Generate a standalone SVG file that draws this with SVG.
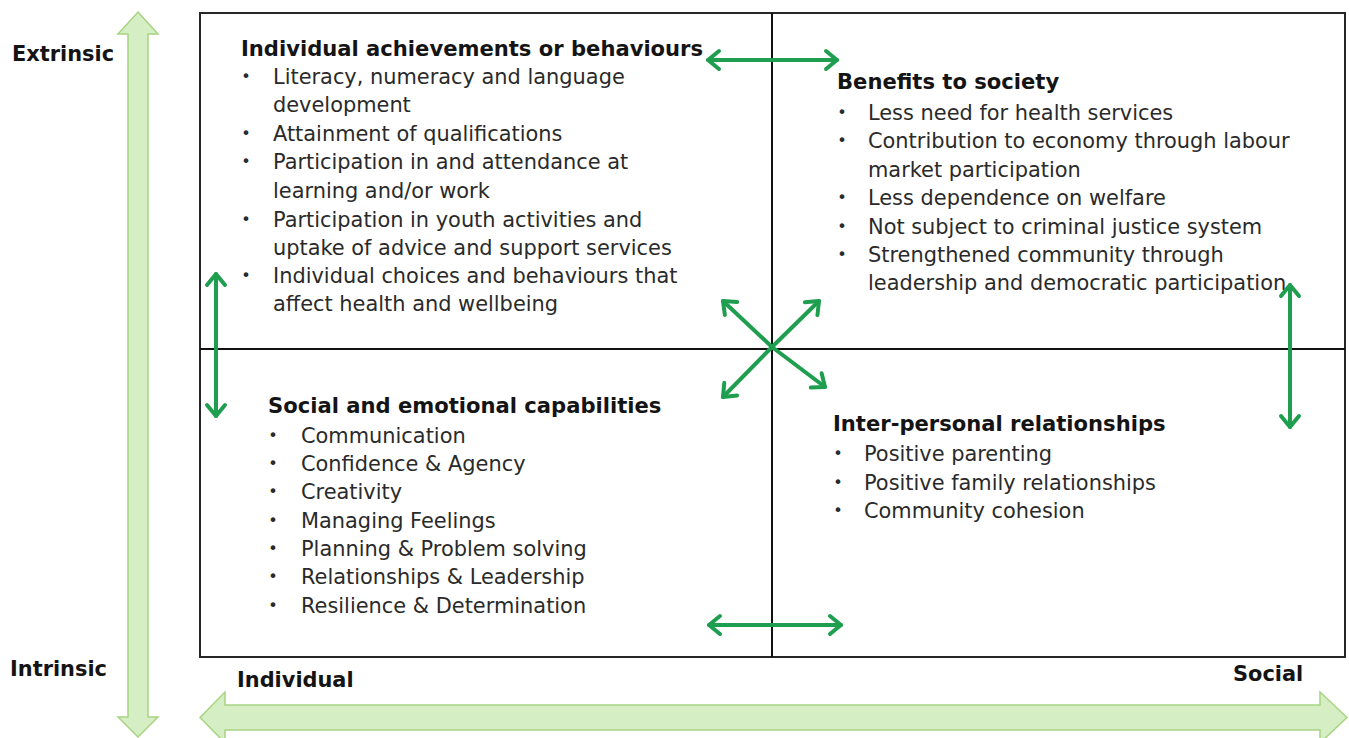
<svg xmlns="http://www.w3.org/2000/svg" width="1349" height="738" viewBox="0 0 1349 738">
<style>
  text { font-family: "DejaVu Sans", Verdana, sans-serif; font-size: 20.9px; fill: #2a2a2a; }
  .t { font-weight: bold; font-size: 21.1px; fill: #141414; }
  .ax { font-weight: bold; fill: #141414; }
  .b { text-anchor: middle; font-size: 16px; }
  .big { fill: #d6eec3; stroke: #a8d483; stroke-width: 1.5; stroke-linejoin: miter; }
  .frame { fill: #ffffff; stroke: #262626; stroke-width: 2; }
  .div { stroke: #111111; stroke-width: 2; }
  .g { fill: none; stroke: #1f9e50; stroke-width: 4; stroke-linecap: round; marker-start: url(#ah); marker-end: url(#ah); }
</style>
<defs>
  <marker id="ah" markerUnits="userSpaceOnUse" orient="auto-start-reverse" refX="0" refY="0" markerWidth="30" markerHeight="30" viewBox="-15 -15 30 30" overflow="visible">
    <path d="M -11 -9 L 0 0 L -11 9" fill="none" stroke="#1f9e50" stroke-width="4" stroke-linecap="round" stroke-linejoin="round"/>
  </marker>
</defs>
<rect width="1349" height="738" fill="#ffffff"/>

<g id="axis-vertical">
  <polygon class="big" points="138,12 158,34 148,34 148,717 158,717 138,737 118,717 128,717 128,34 118,34"/>
  <text class="ax" x="12" y="61">Extrinsic</text>
  <text class="ax" x="10" y="676">Intrinsic</text>
</g>

<g id="axis-horizontal">
  <polygon class="big" points="200,717.5 225,692 225,705 1320,705 1320,692 1347,717.5 1320,743 1320,730 225,730 225,743"/>
  <text class="ax" x="237" y="687">Individual</text>
  <text class="ax" x="1233" y="681">Social</text>
</g>

<g id="frame">
  <rect class="frame" x="200" y="13" width="1145" height="644"/>
  <line class="div" x1="772" y1="13" x2="772" y2="657"/>
  <line class="div" x1="200" y1="349" x2="1345" y2="349"/>
</g>

<g id="individual-achievements">
  <text class="t" x="241" y="56">Individual achievements or behaviours</text>
  <text class="b" x="246" y="82">•</text><text x="273" y="84">Literacy, numeracy and language</text>
  <text x="273" y="112">development</text>
  <text class="b" x="246" y="139">•</text><text x="273" y="141">Attainment of qualifications</text>
  <text class="b" x="246" y="167">•</text><text x="273" y="169">Participation in and attendance at</text>
  <text x="273" y="198">learning and/or work</text>
  <text class="b" x="246" y="225">•</text><text x="273" y="227">Participation in youth activities and</text>
  <text x="273" y="255">uptake of advice and support services</text>
  <text class="b" x="246" y="281">•</text><text x="273" y="283">Individual choices and behaviours that</text>
  <text x="273" y="311">affect health and wellbeing</text>
</g>

<g id="benefits-to-society">
  <text class="t" x="837" y="89">Benefits to society</text>
  <text class="b" x="842" y="118">•</text><text x="868" y="120">Less need for health services</text>
  <text class="b" x="842" y="146">•</text><text x="868" y="148">Contribution to economy through labour</text>
  <text x="868" y="177">market participation</text>
  <text class="b" x="842" y="203">•</text><text x="868" y="205">Less dependence on welfare</text>
  <text class="b" x="842" y="232">•</text><text x="868" y="234">Not subject to criminal justice system</text>
  <text class="b" x="842" y="260">•</text><text x="868" y="262">Strengthened community through</text>
  <text x="868" y="290">leadership and democratic participation</text>
</g>

<g id="social-emotional">
  <text class="t" x="268" y="413">Social and emotional capabilities</text>
  <text class="b" x="273" y="441">•</text><text x="301" y="443">Communication</text>
  <text class="b" x="273" y="469">•</text><text x="301" y="471">Confidence &amp; Agency</text>
  <text class="b" x="273" y="497">•</text><text x="301" y="499">Creativity</text>
  <text class="b" x="273" y="526">•</text><text x="301" y="528">Managing Feelings</text>
  <text class="b" x="273" y="554">•</text><text x="301" y="556">Planning &amp; Problem solving</text>
  <text class="b" x="273" y="582">•</text><text x="301" y="584">Relationships &amp; Leadership</text>
  <text class="b" x="273" y="611">•</text><text x="301" y="613">Resilience &amp; Determination</text>
</g>

<g id="inter-personal">
  <text class="t" x="833" y="431">Inter-personal relationships</text>
  <text class="b" x="838" y="459">•</text><text x="864" y="461">Positive parenting</text>
  <text class="b" x="838" y="488">•</text><text x="864" y="490">Positive family relationships</text>
  <text class="b" x="838" y="516">•</text><text x="864" y="518">Community cohesion</text>
</g>

<g id="connectors">
  <line class="g" x1="708" y1="60" x2="837" y2="60"/>
  <line class="g" x1="709" y1="625" x2="841" y2="625"/>
  <line class="g" x1="216" y1="274" x2="216" y2="416"/>
  <line class="g" x1="1290" y1="285" x2="1290" y2="427"/>
  <line class="g" x1="723" y1="301" x2="772" y2="347" style="marker-end:none"/>
  <line class="g" x1="819" y1="301" x2="772" y2="347" style="marker-end:none"/>
  <line class="g" x1="723" y1="397" x2="772" y2="347" style="marker-end:none"/>
  <line class="g" x1="825" y1="387" x2="772" y2="347" style="marker-end:none"/>
</g>
</svg>
